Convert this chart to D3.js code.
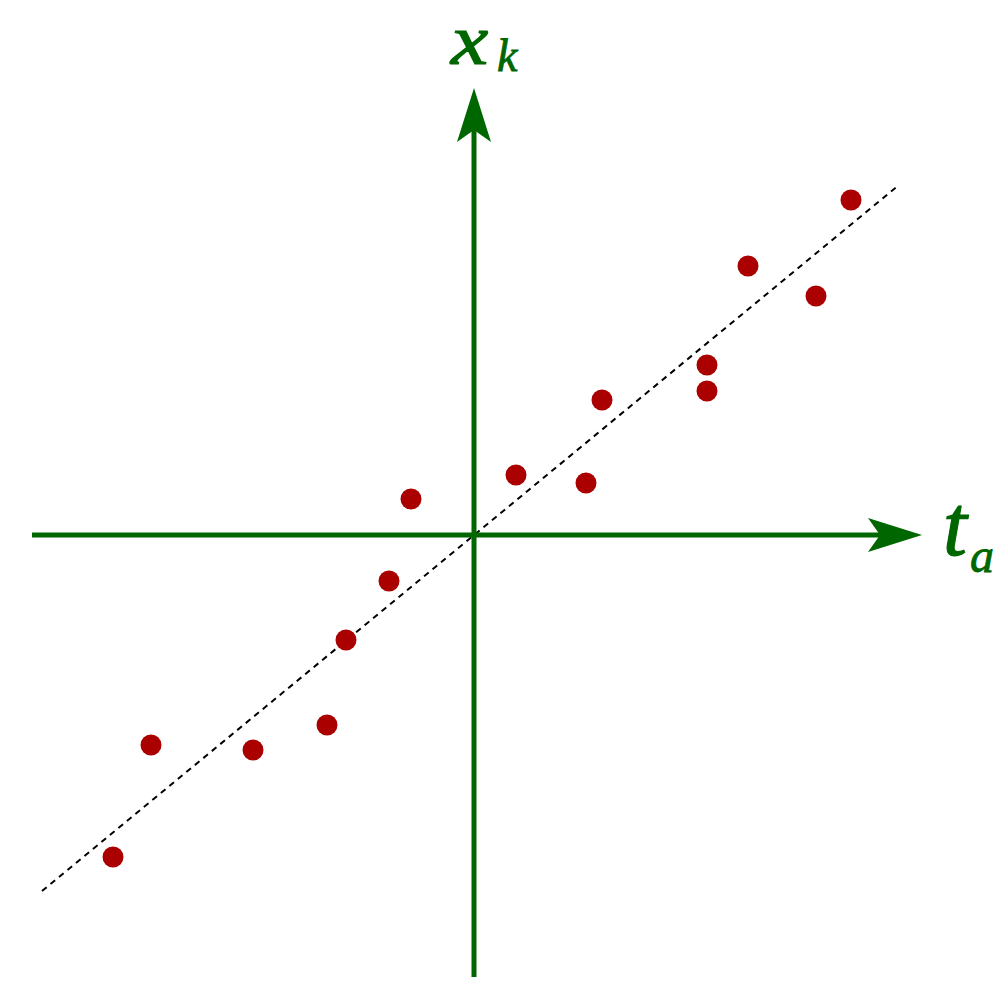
<!DOCTYPE html>
<html><head><meta charset="utf-8">
<script src="https://cdn.jsdelivr.net/npm/d3@7"></script>
<style>html,body{margin:0;padding:0;background:#fff}</style>
</head><body>
<svg id="c" width="1000" height="1000"></svg>
<script>
const pointsX = [-3.61,-3.23,-2.21,-1.47,-1.28,-0.85,-0.63,0.42,1.12,1.28,2.33,2.33,2.74,3.42,3.77];
const pointsY = [-3.22,-2.10,-2.15,-1.90,-1.05,-0.46,0.36,0.60,0.52,1.35,1.70,1.44,2.69,2.39,3.35];
const fitX = [-4.32, 4.25];
const fitY = [-3.56, 3.50];
const axisXRange = [-4.42, 4.48];
const axisYRange = [-4.42, 4.47];
const xLabel = ["t","a"];
const yLabel = ["x","k"];

const green = "#006600", red = "#aa0000";
const svg = d3.select("#c");
const x = d3.scaleLinear().domain(axisXRange).range([32, 922]);
const y = d3.scaleLinear().domain(axisYRange).range([977, 88]);

// fit line
svg.append("line")
  .attr("x1", x(fitX[0])).attr("y1", y(fitY[0]))
  .attr("x2", x(fitX[1])).attr("y2", y(fitY[1]))
  .attr("stroke", "#000").attr("stroke-width", 2).attr("stroke-dasharray", "6,5");

// axes
svg.append("line").attr("x1", x(axisXRange[0])).attr("y1", y(0)).attr("x2", x(axisXRange[1]) - 20).attr("y2", y(0))
  .attr("stroke", green).attr("stroke-width", 5);
svg.append("line").attr("x1", x(0)).attr("y1", y(axisYRange[0])).attr("x2", x(0)).attr("y2", y(axisYRange[1]) + 20)
  .attr("stroke", green).attr("stroke-width", 5);

// arrowheads
const tx = x(axisXRange[1]), ty = y(0);
svg.append("path").attr("fill", green)
  .attr("d", `M${tx},${ty} L${tx-54},${ty-17} L${tx-42},${ty} L${tx-54},${ty+17} Z`);
const vx = x(0), vy = y(axisYRange[1]);
svg.append("path").attr("fill", green)
  .attr("d", `M${vx},${vy} L${vx-17},${vy+54} L${vx},${vy+42} L${vx+17},${vy+54} Z`);

// points
svg.selectAll("circle.p").data(pointsX.map((v,i)=>[v,pointsY[i]])).join("circle")
  .attr("class","p").attr("cx", d=>x(d[0])).attr("cy", d=>y(d[1])).attr("r", 10.5).attr("fill", red);

// labels
const lf = "'Liberation Serif', 'DejaVu Serif', serif";
function lab(sym, mx, my, ms, sx, sy, ss, stretch) {
  const g = svg.append("g").attr("fill", green).attr("stroke", green).attr("stroke-width", 1.2)
    .attr("font-family", lf).attr("font-style", "italic");
  g.append("text").attr("x", 0).attr("y", 0).attr("font-size", ms)
    .attr("transform", `translate(${mx},${my}) scale(${stretch},1)`).text(sym[0]);
  g.append("text").attr("x", sx).attr("y", sy).attr("font-size", ss).attr("stroke-width", 0.8).text(sym[1]);
}
lab(xLabel, 943, 555, 86, 970, 572, 48, 1);
lab(yLabel, 451, 64, 71, 497, 71, 46, 1.18);
</script>
</body></html>
